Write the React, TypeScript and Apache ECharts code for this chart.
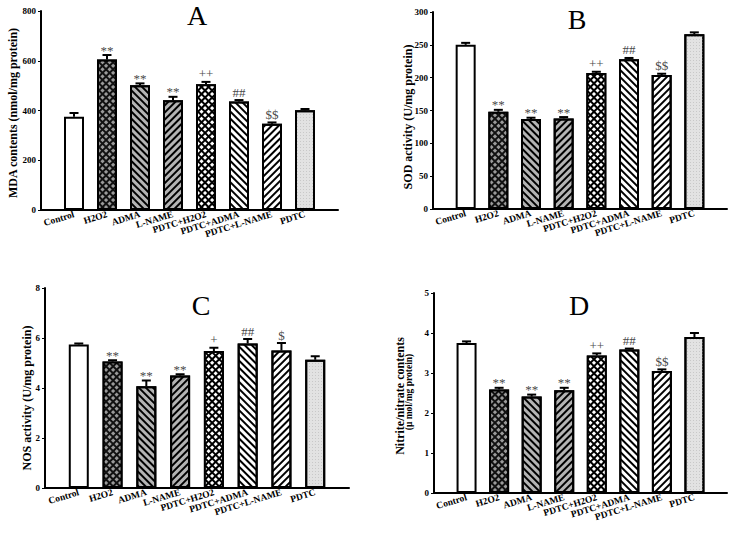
import React, { useEffect, useRef } from 'react';
import * as echarts from 'echarts';

const categories = ['Control', 'H2O2', 'ADMA', 'L-NAME', 'PDTC+H2O2', 'PDTC+ADMA', 'PDTC+L-NAME', 'PDTC'];

const mdaValues = [375, 605, 502, 441, 506, 436, 347, 401];
const mdaErrors = [15, 18, 7, 14, 9, 6, 5, 5];
const mdaMarks = ['', '**', '**', '**', '++', '##', '$$', ''];

const sodValues = [250, 148, 137, 138, 207, 228, 204, 266];
const sodErrors = [3, 3, 2, 2, 2, 2, 2, 3];
const sodMarks = ['', '**', '**', '**', '++', '##', '$$', ''];

const nosValues = [5.74, 5.06, 4.07, 4.5, 5.48, 5.78, 5.5, 5.13];
const nosErrors = [0.04, 0.05, 0.23, 0.05, 0.13, 0.18, 0.3, 0.14];
const nosMarks = ['', '**', '**', '**', '+', '##', '$', ''];

const noxValues = [3.75, 2.59, 2.41, 2.57, 3.44, 3.59, 3.05, 3.9];
const noxErrors = [0.04, 0.04, 0.05, 0.06, 0.05, 0.02, 0.04, 0.1];
const noxMarks = ['', '**', '**', '**', '++', '##', '$$', ''];

const SERIF = '"Liberation Serif", "Times New Roman", serif';

const stripe = (bg: string, rot: number) => ({
  color: bg,
  decal: {
    symbol: 'rect',
    symbolSize: 1,
    color: '#000',
    dashArrayX: [1, 0],
    dashArrayY: [2, 2.5],
    rotation: rot,
  },
});
const hatch = (bg: string, dots: string, a: number, b: number) => ({
  color: bg,
  decal: {
    symbol: 'rect',
    symbolSize: 1,
    color: dots,
    dashArrayX: [a, b],
    dashArrayY: [a, b],
    rotation: Math.PI / 4,
  },
});

const barStyles: any[] = [
  { color: '#ffffff' },
  hatch('#111111', '#9a9a9a', 2.6, 1.4),
  stripe('#b4b4b4', Math.PI / 4),
  stripe('#b4b4b4', -Math.PI / 4),
  hatch('#000000', '#ffffff', 2.3, 1.7),
  stripe('#ffffff', Math.PI / 4),
  stripe('#ffffff', -Math.PI / 4),
  {
    color: '#e2e2e2',
    decal: { symbol: 'rect', symbolSize: 1, color: '#c8c8c8', dashArrayX: [1, 2], dashArrayY: [1, 2], rotation: 0 },
  },
];

const panels = [
  { title: 'A', values: mdaValues, errors: mdaErrors, marks: mdaMarks, max: 800, interval: 200,
    grid: { left: 41, top: 11, width: 297, height: 199 }, titlePos: [197, 15] },
  { title: 'B', values: sodValues, errors: sodErrors, marks: sodMarks, max: 300, interval: 50,
    grid: { left: 433, top: 12, width: 294, height: 197 }, titlePos: [577, 19] },
  { title: 'C', values: nosValues, errors: nosErrors, marks: nosMarks, max: 8, interval: 2,
    grid: { left: 45, top: 288, width: 304, height: 200 }, titlePos: [201, 305] },
  { title: 'D', values: noxValues, errors: noxErrors, marks: noxMarks, max: 5, interval: 1,
    grid: { left: 434, top: 293, width: 293, height: 200 }, titlePos: [579, 305] },
];

export default function App() {
  const ref = useRef<HTMLDivElement>(null);
  useEffect(() => {
    if (!ref.current) return;
    const chart = echarts.init(ref.current, undefined, { renderer: 'svg' });
    const padded = ['', ...categories, ''];
    const grids: any[] = [];
    const xAxes: any[] = [];
    const yAxes: any[] = [];
    const series: any[] = [];
    const graphics: any[] = [];
    panels.forEach((p, k) => {
      grids.push({ ...p.grid, containLabel: false, outerBoundsMode: 'none' });
      xAxes.push({
        type: 'category', gridIndex: k, data: padded, boundaryGap: false,
        axisLine: { lineStyle: { color: '#000', width: 2 } },
        axisTick: { show: false },
        axisLabel: { interval: 0, rotate: 17, margin: 4, color: '#000', fontFamily: SERIF, fontWeight: 'bold', fontSize: 9.5 },
        splitLine: { show: false },
      });
      yAxes.push({
        type: 'value', gridIndex: k, min: 0, max: p.max, interval: p.interval,
        axisLine: { show: true, lineStyle: { color: '#000', width: 2 } },
        axisTick: { show: true, length: 3, lineStyle: { color: '#000', width: 1 } },
        axisLabel: { margin: 5, color: '#000', fontFamily: SERIF, fontWeight: 'bold', fontSize: 9 },
        splitLine: { show: false },
      });
      series.push({
        type: 'bar', xAxisIndex: k, yAxisIndex: k, barWidth: 20,
        data: ['-', ...p.values.map((v, i) => ({
          value: v,
          itemStyle: { ...barStyles[i], borderColor: '#000', borderWidth: 2 },
        })), '-'],
      });
      const marks = p.marks;
      series.push({
        type: 'custom', xAxisIndex: k, yAxisIndex: k, z: 5, colorBy: 'series',
        itemStyle: { color: '#555555' },
        data: p.values.map((v, i) => [i + 1, v, p.errors[i]]),
        renderItem: (params: any, api: any) => {
          const x = api.value(0);
          const v = api.value(1);
          const e = api.value(2);
          const p0 = api.coord([x, v]);
          const p1 = api.coord([x, v + e]);
          const children: any[] = [
            { type: 'line', shape: { x1: p0[0], y1: p0[1], x2: p1[0], y2: p1[1] }, style: { stroke: '#000', lineWidth: 2 } },
            { type: 'line', shape: { x1: p1[0] - 4.5, y1: p1[1], x2: p1[0] + 4.5, y2: p1[1] }, style: { stroke: '#000', lineWidth: 2 } },
          ];
          const m = marks[params.dataIndex];
          if (m) {
            const dy = m.indexOf('*') >= 0 ? 5 : 8;
            children.push({
              type: 'text', x: p1[0], y: p1[1] - dy,
              style: { text: m, textAlign: 'center', textVerticalAlign: 'middle', fill: '#4a4a4a', fontSize: 13, fontFamily: SERIF },
            });
          }
          return { type: 'group', children };
        },
      });
      graphics.push({
        type: 'text', x: p.titlePos[0], y: p.titlePos[1],
        style: { text: p.title, textAlign: 'center', textVerticalAlign: 'middle', fill: '#000', fontSize: 28, fontFamily: SERIF },
      });
    });
    const nameStyle = (text: string, size: number) => ({
      text, textAlign: 'center', textVerticalAlign: 'middle', fill: '#000', fontSize: size, fontWeight: 'bold', fontFamily: SERIF,
    });
    graphics.push({ type: 'text', x: 13, y: 113, rotation: Math.PI / 2, style: nameStyle('MDA contents (nmol/mg protein)', 12) });
    graphics.push({ type: 'text', x: 408, y: 117, rotation: Math.PI / 2, style: nameStyle('SOD activity (U/mg protein)', 12) });
    graphics.push({ type: 'text', x: 27, y: 398, rotation: Math.PI / 2, style: nameStyle('NOS activity (U/mg protein)', 12) });
    graphics.push({ type: 'text', x: 400, y: 396, rotation: Math.PI / 2, style: nameStyle('Nitrite/nitrate contents', 12) });
    graphics.push({ type: 'text', x: 409, y: 392, rotation: Math.PI / 2, style: nameStyle('(\u03bc mol/mg protein)', 9.5) });

    chart.setOption({
      animation: false,
      backgroundColor: '#fff',
      grid: grids,
      xAxis: xAxes,
      yAxis: yAxes,
      series,
      graphic: graphics,
    });
    return () => chart.dispose();
  }, []);
  return <div ref={ref} style={{ position: 'fixed', left: 0, top: 0, width: 733, height: 535 }} />;
}
